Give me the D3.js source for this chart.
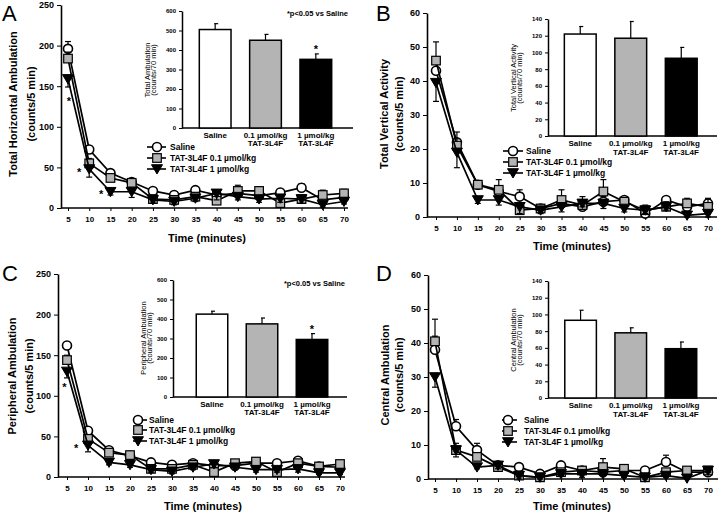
<!DOCTYPE html>
<html><head><meta charset="utf-8">
<script src="https://cdn.jsdelivr.net/npm/d3@7"></script>
<style>body{margin:0;background:#fff}svg{display:block}text{font-family:"Liberation Sans",Arial,sans-serif}</style>
</head><body><svg id="c" width="720" height="516"></svg>
<script>
// ---------- shared ----------
const times = [5,10,15,20,25,30,35,40,45,50,55,60,65,70];
const seriesNames = ["Saline","TAT-3L4F 0.1 \u00b5mol/kg","TAT-3L4F 1 \u00b5mol/kg"];
const barLabels = [["Saline"],["0.1 \u00b5mol/kg","TAT-3L4F"],["1 \u00b5mol/kg","TAT-3L4F"]];
const annotText = "*p<0.05 vs Saline";

// ---------- Panel A: Total Horizontal Ambulation ----------
const aSaline    = [196,72,43,32,21,16,22,16,18,15,19,25,10,13];
const aSalineErr = [9,4,4,4,3,2,3,3,4,4,2,5,3,3];
const aLow       = [184,55,37,31,11,10,14,9,21,21,6,11,16,18];
const aLowErr    = [8,6,4,4,3,3,4,3,7,5,3,4,6,5];
const aHigh      = [159,48,20,20,10,8,12,18,14,11,12,11,4,8];
const aHighErr   = [10,10,4,7,4,4,4,8,4,4,5,5,3,3];
const aYTicks = [0,50,100,150,200,250];
const aBars = [505,450,352];
const aBarErr = [30,30,28];
const aBarTicks = [0,100,200,300,400,500,600];
const aStars = [[5.2,133],[7.6,45],[12.8,19]];

// ---------- Panel B: Total Vertical Activity ----------
const bSaline    = [43,22,9.5,7.5,6,2.5,4,3,4.5,5,1,5,3,4];
const bSalineErr = [3,3,1,1.5,2,1,1.5,1,1.5,1,1,1,1,1];
const bLow       = [46,21,9.5,8,2,2.5,5,3.5,7.5,4.5,2,3,4,3];
const bLowErr    = [5.5,2,1,3,1,1,3,2.5,3.5,1,1.5,1.5,1.5,2.5];
const bHigh      = [39.5,19,5,5,3,2,3,4,4,2.5,2,3,0.5,1];
const bHighErr   = [5.5,4.5,1,1.5,2,1,1.5,1,1.5,1,1,1,0.5,1];
const bYTicks = [0,10,20,30,40,50,60];
const bBars = [122,117,93];
const bBarErr = [9,20,13];
const bBarTicks = [0,20,40,60,80,100,120,140];

// ---------- Panel C: Peripheral Ambulation ----------
const cSaline    = [162,57,33,26,18,15,17,14,14,17,17,20,13,12];
const cSalineErr = [4,3,3,3,2,2,3,2,3,2,2,3,2,2];
const cLow       = [144,47,30,27,10,10,15,6,17,19,6,17,13,16];
const cLowErr    = [6,4,3,3,2,2,3,3,3,4,2,3,3,3];
const cHigh      = [130,39,18,15,9,7,12,16,12,9,9,10,5,5];
const cHighErr   = [8,8,3,3,3,3,3,4,3,3,3,4,2,2];
const cYTicks = [0,50,100,150,200,250];
const cBars = [425,375,295];
const cBarErr = [15,30,30];
const cBarTicks = [0,100,200,300,400,500,600];
const cStars = [[4.4,112],[7.2,37]];

// ---------- Panel D: Central Ambulation ----------
const dSaline    = [38,15.5,8.5,4,3.5,1.5,4,2.5,2,2.5,2.5,5,2,2];
const dSalineErr = [4,2,2,1,1,0.5,1,1,1,1,1,2,1,1];
const dLow       = [40.5,8.5,6.5,3.5,1,0.5,2,2.5,3.5,3,0.5,2,2.5,2.5];
const dLowErr    = [6.5,2,1,1,0.5,0.5,1,1,2.5,1,0.5,1,0.5,1];
const dHigh      = [30,8.5,3.5,4,1,0.5,1.5,1.5,1.5,1,0.5,1,0.2,2.5];
const dHighErr   = [3,2,0.5,1,1,0.5,0.5,1,0.5,0.5,0.5,0.5,0.2,0.5];
const dYTicks = [0,10,20,30,40,50,60];
const dBars = [93,78,59];
const dBarErr = [12,6,8];
const dBarTicks = [0,20,40,60,80,100,120,140];

const panels = [
  {letter:"A", lx:2, ly:21, yTitle:["Total Horizontal Ambulation","(counts/5 min)"], ytx:[17,35], yty:104,
   xtx:207, xty:242, x0:61, x1:348, p5:68, p70:344, yb:208, yt:5, yMax:250, yTicks:aYTicks,
   series:[[aSaline,aSalineErr],[aLow,aLowErr],[aHigh,aHighErr]], stars:aStars,
   leg:{mx:157, l0:147, l1:166, tx:170, ys:[147,158,169]},
   ins:{x0:182, x1:353, yt:11, yb:128, max:600, ticks:aBarTicks, b0:190, b1:341, vals:aBars, errs:aBarErr,
        title:["Total Ambulation","(counts/70 min)"], tx:[149.5,156], ty:70, lab:[138,146], star:true,
        annot:[348,16]}},
  {letter:"B", lx:376, ly:21, yTitle:["Total Vertical Activity","(counts/5 min)"], ytx:[388,403], yty:114,
   xtx:572, xty:250, x0:427, x1:717, p5:436, p70:708, yb:217, yt:13, yMax:60, yTicks:bYTicks,
   series:[[bSaline,bSalineErr],[bLow,bLowErr],[bHigh,bHighErr]], stars:[],
   leg:{mx:513, l0:503, l1:523, tx:526, ys:[151,162,173]},
   ins:{x0:548, x1:717, yt:19, yb:136, max:140, ticks:bBarTicks, b0:555, b1:706.5, vals:bBars, errs:bBarErr,
        title:["Total Vertical Activity","(counts/70 min)"], tx:[515.5,522], ty:78, lab:[146,155], star:false,
        annot:null}},
  {letter:"C", lx:2, ly:281, yTitle:["Peripheral Ambulation","(counts/5 min)"], ytx:[16,33], yty:376,
   xtx:203, xty:510, x0:58, x1:345, p5:67, p70:340, yb:477, yt:274, yMax:250, yTicks:cYTicks,
   series:[[cSaline,cSalineErr],[cLow,cLowErr],[cHigh,cHighErr]], stars:cStars,
   leg:{mx:138, l0:133, l1:147, tx:149, ys:[420,430,441]},
   ins:{x0:173, x1:347, yt:280, yb:397, max:600, ticks:cBarTicks, b0:187, b1:337, vals:cBars, errs:cBarErr,
        title:["Peripheral Ambulation","(counts/70 min)"], tx:[145.5,152], ty:338, lab:[407,415], star:true,
        annot:[345,286]}},
  {letter:"D", lx:376, ly:281, yTitle:["Central Ambulation","(counts/5 min)"], ytx:[389,403], yty:375,
   xtx:572, xty:510, x0:428, x1:718, p5:435, p70:708, yb:479, yt:275, yMax:60, yTicks:dYTicks,
   series:[[dSaline,dSalineErr],[dLow,dLowErr],[dHigh,dHighErr]], stars:[],
   leg:{mx:508, l0:502, l1:517, tx:524, ys:[420,431,442]},
   ins:{x0:548, x1:717, yt:281, yb:398, max:140, ticks:dBarTicks, b0:555.5, b1:706, vals:dBars, errs:dBarErr,
        title:["Central Ambulation","(counts/70 min)"], tx:[515.5,522], ty:340, lab:[408,417], star:false,
        annot:null}}
];

const svg = d3.select("#c");
const markerFill = ["#fff","#b4b4b4","#000"];

function drawMarker(g, kind, x, y){
  if(kind===0){
    g.append("circle").attr("cx",x).attr("cy",y).attr("r",4.5).attr("fill","#fff").attr("stroke","#000").attr("stroke-width",1.6);
  } else if(kind===1){
    g.append("rect").attr("x",x-4.3).attr("y",y-4.3).attr("width",8.6).attr("height",8.6).attr("fill","#b4b4b4").attr("stroke","#000").attr("stroke-width",1.2);
  } else {
    g.append("path").attr("d",`M${x-5.5},${y-4.3}L${x+5.5},${y-4.3}L${x},${y+5}Z`).attr("fill","#000").attr("stroke","#000").attr("stroke-width",1);
  }
}

panels.forEach(p=>{
  const g = svg.append("g");
  const xs = d3.scaleLinear().domain([5,70]).range([p.p5,p.p70]);
  const ys = d3.scaleLinear().domain([0,p.yMax]).range([p.yb,p.yt]);

  g.append("text").attr("x",p.lx).attr("y",p.ly).attr("font-size",22).text(p.letter);

  const ya = g.append("g").attr("transform",`translate(${p.x0},0)`)
    .call(d3.axisLeft(ys).tickValues(p.yTicks).tickSize(4).tickSizeOuter(0).tickPadding(3));
  ya.select(".domain").attr("stroke-width",1.6);
  ya.selectAll("text").attr("font-size",9).attr("font-weight","bold").attr("font-family","Liberation Sans, Arial, sans-serif");
  const xa = g.append("g").attr("transform",`translate(0,${p.yb})`)
    .call(d3.axisBottom(xs).tickValues(times).tickSize(3).tickSizeOuter(0).tickPadding(5));
  xa.select(".domain").remove();
  xa.selectAll("text").attr("font-size",8).attr("font-weight","bold").attr("font-family","Liberation Sans, Arial, sans-serif");
  g.append("line").attr("x1",p.x0).attr("x2",p.x1).attr("y1",p.yb).attr("y2",p.yb).attr("stroke","#000").attr("stroke-width",1.6);

  g.append("text").attr("x",p.xtx).attr("y",p.xty).attr("text-anchor","middle").attr("font-size",11).attr("font-weight","bold").text("Time (minutes)");
  p.yTitle.forEach((t,i)=>{
    g.append("text").attr("transform",`translate(${p.ytx[i]},${p.yty}) rotate(-90)`).attr("text-anchor","middle")
      .attr("font-size",11).attr("font-weight","bold").text(t);
  });

  p.series.forEach((s,k)=>{
    const [vals, errs] = s;
    const sg = g.append("g");
    const line = d3.line().x((d,i)=>xs(times[i])).y(d=>ys(d));
    sg.append("path").attr("d",line(vals)).attr("fill","none").attr("stroke","#000").attr("stroke-width",1.7);
    vals.forEach((v,i)=>{
      const x = xs(times[i]);
      const e = k===2 ? v - errs[i] : v + errs[i];
      sg.append("line").attr("x1",x).attr("x2",x).attr("y1",ys(v)).attr("y2",ys(e)).attr("stroke","#000").attr("stroke-width",1.2);
      sg.append("line").attr("x1",x-3).attr("x2",x+3).attr("y1",ys(e)).attr("y2",ys(e)).attr("stroke","#000").attr("stroke-width",1.2);
    });
    vals.forEach((v,i)=>drawMarker(sg,k,xs(times[i]),ys(v)));
  });

  p.stars.forEach(([t,v])=>{
    g.append("text").attr("x",xs(t)).attr("y",ys(v)+5).attr("text-anchor","middle").attr("font-size",11).attr("font-weight","bold").text("*");
  });

  seriesNames.forEach((n,k)=>{
    const y = p.leg.ys[k];
    g.append("line").attr("x1",p.leg.l0).attr("x2",p.leg.l1).attr("y1",y).attr("y2",y).attr("stroke","#000").attr("stroke-width",1.6);
    drawMarker(g,k,p.leg.mx,y);
    g.append("text").attr("x",p.leg.tx).attr("y",y+3).attr("font-size",8.5).attr("font-weight","bold").text(n);
  });

  const I = p.ins;
  const iy = d3.scaleLinear().domain([0,I.max]).range([I.yb,I.yt]);
  const ix = d3.scaleBand().domain([0,1,2]).range([I.b0,I.b1]).paddingInner(0.37).paddingOuter(0.185);
  const iya = g.append("g").attr("transform",`translate(${I.x0},0)`)
    .call(d3.axisLeft(iy).tickValues(I.ticks).tickSize(3).tickSizeOuter(0).tickPadding(3));
  iya.select(".domain").attr("stroke-width",1.5);
  iya.selectAll("text").attr("font-size",6).attr("font-weight","bold").attr("font-family","Liberation Sans, Arial, sans-serif");
  g.append("line").attr("x1",I.x0).attr("x2",I.x1).attr("y1",I.yb).attr("y2",I.yb).attr("stroke","#000").attr("stroke-width",1.5);
  I.vals.forEach((v,i)=>{
    const bx = ix(i), bw = ix.bandwidth(), cx = bx + bw/2;
    const top = iy(I.vals[i]+I.errs[i]);
    g.append("line").attr("x1",cx).attr("x2",cx).attr("y1",iy(v)).attr("y2",top).attr("stroke","#000").attr("stroke-width",1.2);
    g.append("line").attr("x1",cx-1).attr("x2",cx+3).attr("y1",top).attr("y2",top).attr("stroke","#000").attr("stroke-width",1.2);
    g.append("rect").attr("x",bx).attr("y",iy(v)).attr("width",bw).attr("height",I.yb-iy(v))
      .attr("fill",markerFill[i]).attr("stroke","#000").attr("stroke-width",1.5);
    barLabels[i].forEach((t,j)=>{
      g.append("text").attr("x",cx).attr("y",I.lab[j]).attr("text-anchor","middle").attr("font-size",8).attr("font-weight","bold").text(t);
    });
    if(I.star && i===2){
      g.append("text").attr("x",cx).attr("y",top-1).attr("text-anchor","middle").attr("font-size",11).attr("font-weight","bold").text("*");
    }
  });
  I.title.forEach((t,j)=>{
    g.append("text").attr("transform",`translate(${I.tx[j]},${I.ty}) rotate(-90)`).attr("text-anchor","middle").attr("font-size",7.5).text(t);
  });
  if(I.annot){
    g.append("text").attr("x",I.annot[0]).attr("y",I.annot[1]).attr("text-anchor","end").attr("font-size",7.5).attr("font-weight","bold").text(annotText);
  }
});
</script></body></html>
